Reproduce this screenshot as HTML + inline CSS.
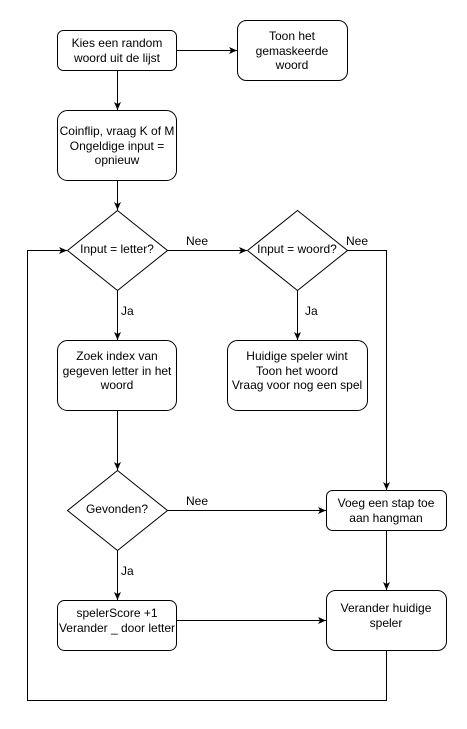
<!DOCTYPE html>
<html><head><meta charset="utf-8"><style>
html,body{margin:0;padding:0;background:#fff;}
svg{display:block;}
text{font-family:"Liberation Sans",Arial,sans-serif;font-size:12px;fill:#000;}
</style></head><body>
<svg width="467" height="729" viewBox="0 0 467 729" xmlns="http://www.w3.org/2000/svg">
<defs>
<marker id="a" markerWidth="10" markerHeight="10" refX="8" refY="4" orient="auto" markerUnits="userSpaceOnUse">
<path d="M0,0.5 L8,4 L0,7.5 L2,4 Z" fill="#000"/>
</marker>
</defs>
<g fill="#fff" stroke="#000" stroke-width="1">
<rect x="57.5" y="30.5" width="119" height="40" rx="6"/>
<rect x="237.5" y="20.5" width="110" height="60" rx="9"/>
<rect x="57.5" y="110.5" width="119" height="70" rx="10"/>
<path d="M117.5,210.5 L167.5,250.5 L117.5,290.5 L67.5,250.5 Z"/>
<path d="M297.5,210.5 L347.5,250.5 L297.5,290.5 L247.5,250.5 Z"/>
<rect x="57.5" y="340.5" width="119" height="70" rx="10"/>
<rect x="227.5" y="340.5" width="140" height="70" rx="10"/>
<path d="M117.5,470.5 L167.5,510.5 L117.5,550.5 L67.5,510.5 Z"/>
<rect x="326.5" y="490.5" width="120" height="40" rx="6"/>
<rect x="57.5" y="600.5" width="119" height="50" rx="7"/>
<rect x="326.5" y="590.5" width="120" height="60" rx="9"/>
</g>
<g fill="none" stroke="#000" stroke-width="1">
<path d="M176.5,50.5 H237" marker-end="url(#a)"/>
<path d="M117.5,70.5 V110" marker-end="url(#a)"/>
<path d="M117.5,180.5 V210" marker-end="url(#a)"/>
<path d="M167.5,250.5 H247" marker-end="url(#a)"/>
<path d="M347.5,250.5 H386.5 V490" marker-end="url(#a)"/>
<path d="M117.5,290.5 V340" marker-end="url(#a)"/>
<path d="M297.5,290.5 V340" marker-end="url(#a)"/>
<path d="M117.5,410.5 V470" marker-end="url(#a)"/>
<path d="M167.5,510.5 H326" marker-end="url(#a)"/>
<path d="M117.5,550.5 V600" marker-end="url(#a)"/>
<path d="M386.5,530.5 V590" marker-end="url(#a)"/>
<path d="M176.5,620.5 H326" marker-end="url(#a)"/>
<path d="M386.5,650.5 V700.5 H27.5 V250.5 H67" marker-end="url(#a)"/>
</g>
<g text-anchor="middle">
<text x="117" y="47">Kies een random</text>
<text x="117" y="62">woord uit de lijst</text>
<text x="292" y="40">Toon het</text>
<text x="292" y="55">gemaskeerde</text>
<text x="292" y="69">woord</text>
<text x="117" y="135">Coinflip, vraag K of M</text>
<text x="117" y="150">Ongeldige input =</text>
<text x="117" y="164">opnieuw</text>
<text x="117" y="253">Input = letter?</text>
<text x="297" y="253">Input = woord?</text>
<text x="117" y="360">Zoek index van</text>
<text x="117" y="375">gegeven letter in het</text>
<text x="117" y="389">woord</text>
<text x="297" y="360">Huidige speler wint</text>
<text x="297" y="375">Toon het woord</text>
<text x="297" y="389">Vraag voor nog een spel</text>
<text x="117" y="513">Gevonden?</text>
<text x="386" y="507">Voeg een stap toe</text>
<text x="386" y="522">aan hangman</text>
<text x="117" y="617">spelerScore +1</text>
<text x="117" y="632">Verander _ door letter</text>
<text x="386" y="612">Verander huidige</text>
<text x="386" y="627">speler</text>
</g>
<text x="186" y="245">Nee</text>
<text x="346" y="245">Nee</text>
<text x="121" y="315">Ja</text>
<text x="305" y="315">Ja</text>
<text x="186" y="505">Nee</text>
<text x="121" y="575">Ja</text>
</svg>
</body></html>
